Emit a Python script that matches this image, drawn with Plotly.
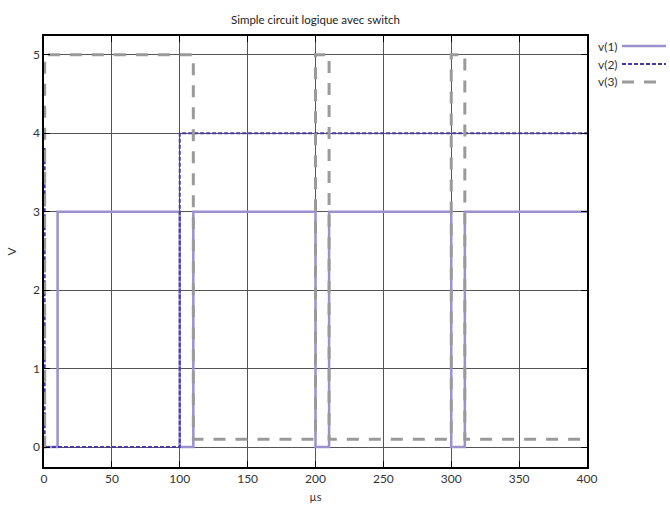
import plotly.graph_objects as go

# Data (time in µs, voltage in V), step-wise signals
t1 = [0, 10, 100, 110, 200, 210, 300, 310, 400]
v1 = [0, 3, 0, 3, 0, 3, 0, 3, 3]

t2 = [0, 0.5, 100, 400]
v2 = [3.8, 0, 4, 4]

t3 = [0, 0.5, 110, 200, 210, 300, 310, 400]
v3 = [0, 5, 0.1, 5, 0.1, 5, 0.1, 0.1]

names = ["v(1)", "v(2)", "v(3)"]
colors = ["#9d90cf", "#4a37a6", "#9a9a9a"]
widths = [2.5, 2, 3]
dashes_px = ["solid", "4px,2px", "12px,10px"]

FONT = "Lato"
L, R, T, B = 44, 83, 36, 39
PW, PH = 670 - L - R, 506 - T - B

fig = go.Figure()
for t, v, n, c, d, w in zip([t1, t2, t3], [v1, v2, v3], names, colors, dashes_px, widths):
    fig.add_trace(go.Scatter(x=t, y=v, mode="lines", name=n, line_shape="hv",
                             line=dict(color=c, width=w, dash=d), showlegend=False,
                             hoverinfo="skip"))

fig.update_layout(
    width=670, height=506,
    margin=dict(l=L, r=R, t=T, b=B, autoexpand=False),
    paper_bgcolor="white", plot_bgcolor="white",
    font=dict(family=FONT, size=12, color="#333"),
    title=dict(text="Simple circuit logique avec switch", x=315.5 / 670,
               xanchor="center", y=1 - 20 / 506, yanchor="middle", font=dict(size=11.5, color="#222")),
)
fig.update_xaxes(range=[0, 400], tickvals=[0, 50, 100, 150, 200, 250, 300, 350, 400],
                 showgrid=True, gridcolor="#555", gridwidth=1, automargin=False,
                 showline=True, linecolor="black", linewidth=1.5, mirror="ticks",
                 ticks="inside", ticklen=6, tickcolor="black", zeroline=False,
                 title=dict(text="µs", font=dict(size=11), standoff=8))
fig.update_yaxes(range=[-0.255, 5.24], tickvals=[0, 1, 2, 3, 4, 5],
                 showgrid=True, gridcolor="#555", gridwidth=1, automargin=False,
                 showline=True, linecolor="black", linewidth=1.5, mirror="ticks",
                 ticks="inside", ticklen=6, tickcolor="black", zeroline=False,
                 title=dict(text="V", font=dict(size=12), standoff=14))

# gnuplot-style legend: label then sample line, outside top right
for i, (n, c, d, w) in enumerate(zip(names, colors, dashes_px, widths)):
    ypix = 46 + 18 * i
    yp = (506 - B - ypix) / PH
    fig.add_annotation(xref="paper", yref="paper", x=(596 - L) / PW, y=yp,
                       text=n, showarrow=False, xanchor="left", yanchor="middle",
                       font=dict(size=12, color="#333"))
    fig.add_shape(type="line", xref="paper", yref="paper",
                  x0=(622 - L) / PW, x1=(666 - L) / PW, y0=yp, y1=yp,
                  line=dict(color=c, width=w, dash=d))

fig.write_html("out.html", config={"displayModeBar": False},
               post_script="document.body.style.margin='0';document.body.style.overflow='hidden';")
